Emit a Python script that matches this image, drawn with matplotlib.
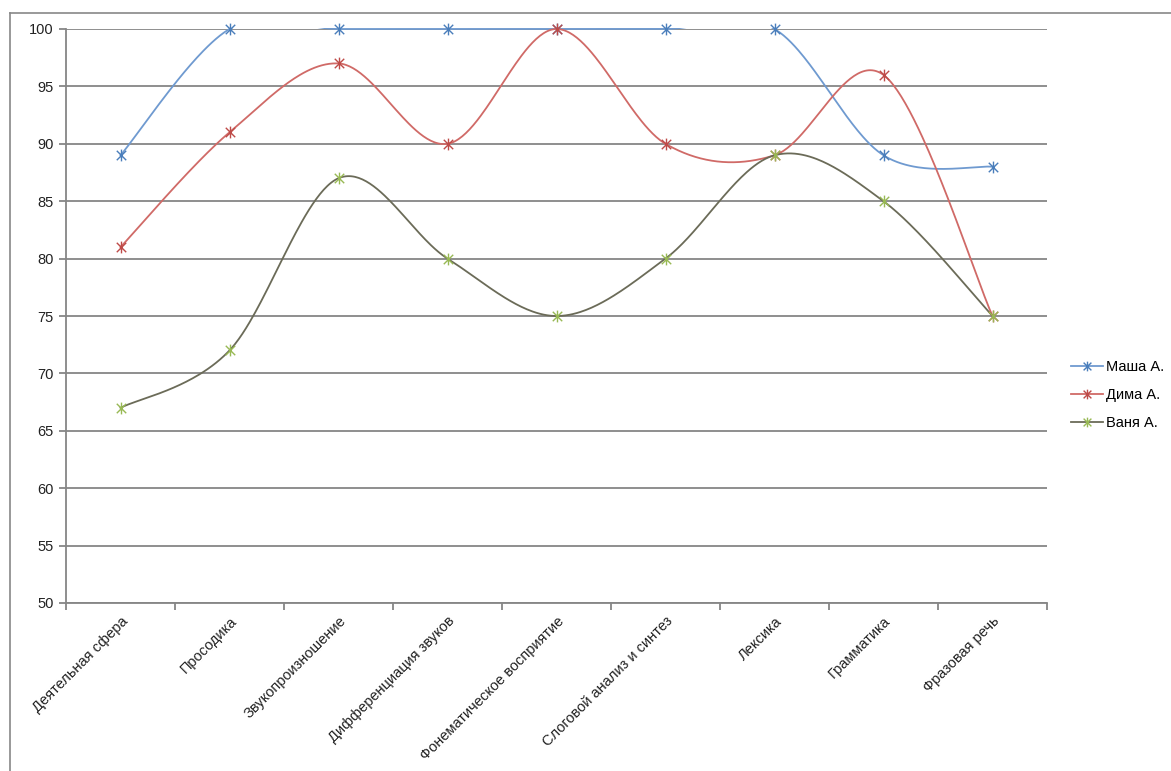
import numpy as np
import matplotlib
matplotlib.use("Agg")
import matplotlib.pyplot as plt
from matplotlib.path import Path
from matplotlib.lines import Line2D
from matplotlib.patches import Rectangle

categories = ["Деятельная сфера", "Просодика", "Звукопроизношение",
              "Дифференциация звуков", "Фонематическое восприятие",
              "Слоговой анализ и синтез", "Лексика", "Грамматика", "Фразовая речь"]
masha = [89, 100, 100, 100, 100, 100, 100, 89, 88]
dima = [81, 91, 97, 90, 100, 90, 89, 96, 75]
vanya = [67, 72, 87, 80, 75, 80, 89, 85, 75]
series_names = ["Маша А.", "Дима А.", "Ваня А."]
y_ticks = list(range(50, 101, 5))

plt.rcParams['font.family'] = ['Liberation Sans', 'DejaVu Sans']

W, H = 1171, 771
fig = plt.figure(figsize=(W / 100, H / 100), dpi=100)
ax = fig.add_axes([66 / W, 1 - 603 / H, (1047 - 66) / W, (603 - 29) / H])

# Excel-style star marker: X plus vertical bar
star = Path([(-1, -1), (1, 1), (-1, 1), (1, -1), (0, -1.25), (0, 1.25)],
            [Path.MOVETO, Path.LINETO, Path.MOVETO, Path.LINETO, Path.MOVETO, Path.LINETO])


def smooth(xs, ys, n=60):
    xs = np.asarray(xs, float)
    ys = np.asarray(ys, float)
    P = np.column_stack([xs, ys])
    P = np.vstack([P[0], P, P[-1]])
    out = []
    t = np.linspace(0, 1, n)[:, None]
    for i in range(1, len(P) - 2):
        p0, p1, p2, p3 = P[i - 1], P[i], P[i + 1], P[i + 2]
        c1 = p1 + (p2 - p0) / 6
        c2 = p2 - (p3 - p1) / 6
        seg = ((1 - t) ** 3) * p1 + 3 * ((1 - t) ** 2) * t * c1 + 3 * (1 - t) * t ** 2 * c2 + t ** 3 * p2
        out.append(seg)
    S = np.vstack(out)
    return S[:, 0], S[:, 1]


x = np.arange(len(categories))
line_colors = ["#6F9AD0", "#D06A67", "#6B6B58"]
marker_colors = ["#4A7EBB", "#BE4B48", "#98B954"]
data = [masha, dima, vanya]

clip_rect = Rectangle((-0.02, -0.02), 1.04, 1.0 + 0.02 + 1.2 / 574,
                      transform=ax.transAxes, facecolor='none', edgecolor='none')
ax.add_patch(clip_rect)
clip_rect.set_visible(False)

for vals, lc, mc, name in zip(data, line_colors, marker_colors, series_names):
    sx, sy = smooth(x, vals)
    ln, = ax.plot(sx, sy, color=lc, lw=1.3, zorder=3)
    ln.set_clip_path(clip_rect)
    ax.plot(x, vals, linestyle='none', marker=star, markersize=8.5,
            markeredgecolor=mc, markeredgewidth=1.0, markerfacecolor='none',
            clip_on=False, zorder=4)

ax.set_xlim(-0.5, len(categories) - 0.5)
ax.set_ylim(50, 100)
ax.set_yticks(y_ticks)
ax.set_yticklabels([str(v) for v in y_ticks], fontsize=10.5, color='#222222')
ax.yaxis.grid(True, color='#868686', lw=1.3)
ax.set_axisbelow(True)

ax.set_xticks(x)
ax.set_xticklabels(categories, rotation=45, ha='right', va='top',
                   rotation_mode='anchor', fontsize=10.5, color='#222222')
ax.set_xticks(np.arange(-0.5, len(categories), 1.0), minor=True)
ax.tick_params(axis='x', which='major', length=0, pad=8)
ax.tick_params(axis='x', which='minor', length=5, color='#868686', width=1.3)
ax.tick_params(axis='y', length=5, color='#868686', width=1.3, pad=4)

for s in ['top', 'right']:
    ax.spines[s].set_visible(False)
for s in ['left', 'bottom']:
    ax.spines[s].set_color('#868686')
    ax.spines[s].set_linewidth(1.3)

handles = [Line2D([0], [0], color=lc, lw=1.3, marker=star, markersize=7,
                  markeredgecolor=mc, markerfacecolor='none', markeredgewidth=1.0)
           for lc, mc in zip(line_colors, marker_colors)]
fig.legend(handles, series_names, loc='center left',
           bbox_to_anchor=(1058 / W, 1 - 395 / H), frameon=False, fontsize=10.5,
           handlelength=2.2, handletextpad=0.2, labelspacing=0.95)

# outer chart border
fig.add_artist(Line2D([10 / W, 10 / W], [0, 1 - 13 / H], color='#888888', lw=1.2))
fig.add_artist(Line2D([10 / W, 1], [1 - 13 / H, 1 - 13 / H], color='#888888', lw=1.2))

fig.savefig("out.png", dpi=100)
